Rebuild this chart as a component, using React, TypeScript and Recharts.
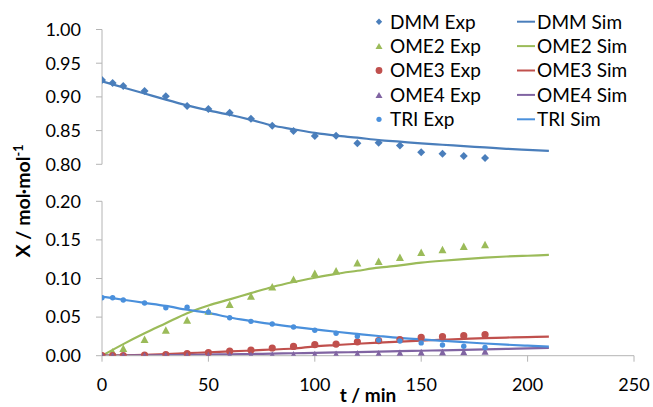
import React from 'react';
import { ComposedChart, Line, Scatter, XAxis, YAxis, Label } from 'recharts';

// ---- data ----
const TIMES_EXP = [0, 5, 10, 20, 30, 40, 50, 60, 70, 80, 90, 100, 110, 120, 130, 140, 150, 160, 170, 180];
const DMM_EXP = [0.925, 0.9206, 0.9162, 0.9087, 0.901, 0.8865, 0.882, 0.8766, 0.8676, 0.8572, 0.8494, 0.842, 0.8424, 0.8311, 0.832, 0.828, 0.818, 0.8157, 0.8123, 0.8093];
const OME2_EXP = [0.0, 0.0052, 0.0096, 0.0212, 0.0333, 0.0462, 0.0579, 0.0666, 0.0773, 0.0894, 0.099, 0.1067, 0.110, 0.1205, 0.1223, 0.1276, 0.134, 0.1375, 0.1418, 0.1442];
const OME3_EXP = [0.0, 0.0, 0.0, 0.0008, 0.0015, 0.0028, 0.004, 0.006, 0.0074, 0.010, 0.012, 0.0143, 0.015, 0.018, 0.0195, 0.021, 0.0238, 0.0246, 0.026, 0.0272];
const OME4_EXP = [0.0, 0.0, 0.0, 0.0, 0.0002, 0.0004, 0.0006, 0.0008, 0.001, 0.0013, 0.0016, 0.002, 0.0022, 0.0027, 0.003, 0.0038, 0.0045, 0.0048, 0.005, 0.0058];
const TRI_EXP = [0.0751, 0.075, 0.0722, 0.0683, 0.0622, 0.0627, 0.0564, 0.0492, 0.0445, 0.041, 0.0372, 0.0329, 0.029, 0.0251, 0.0202, 0.019, 0.0166, 0.0139, 0.0122, 0.0106];

const TIMES_SIM = [0, 10, 20, 30, 40, 50, 60, 70, 80, 90, 100, 110, 120, 130, 140, 150, 160, 170, 180, 190, 200, 210];
const DMM_SIM = [0.923, 0.914, 0.905, 0.896, 0.8875, 0.880, 0.8735, 0.866, 0.8575, 0.852, 0.8465, 0.8425, 0.8395, 0.836, 0.8335, 0.831, 0.829, 0.827, 0.825, 0.823, 0.8215, 0.820];
const OME2_SIM = [0.0, 0.015, 0.029, 0.042, 0.055, 0.065, 0.073, 0.081, 0.089, 0.0955, 0.101, 0.106, 0.110, 0.114, 0.117, 0.1205, 0.123, 0.125, 0.127, 0.1285, 0.1295, 0.1305];
const OME3_SIM = [0.0, 0.0005, 0.0012, 0.0022, 0.0033, 0.0044, 0.0055, 0.0067, 0.008, 0.0093, 0.012, 0.0138, 0.0155, 0.017, 0.0183, 0.0195, 0.0207, 0.0218, 0.0228, 0.0235, 0.0241, 0.0246];
const OME4_SIM = [0.0, 0.0002, 0.0004, 0.0007, 0.001, 0.0014, 0.0018, 0.0022, 0.0027, 0.0032, 0.0037, 0.0042, 0.0047, 0.0053, 0.0058, 0.0064, 0.007, 0.0076, 0.0082, 0.0088, 0.0094, 0.0100];
const TRI_SIM = [0.0765, 0.0725, 0.0685, 0.0645, 0.0595, 0.0555, 0.0495, 0.045, 0.0408, 0.0373, 0.0342, 0.031, 0.0282, 0.0255, 0.023, 0.0212, 0.0193, 0.0175, 0.0158, 0.0143, 0.013, 0.0117];

const X_TICKS = [0, 50, 100, 150, 200, 250];
const Y_TICKS_TOP = [0.8, 0.85, 0.9, 0.95, 1.0];
const Y_TICKS_BOTTOM = [0, 0.05, 0.1, 0.15, 0.2];

const EXP_NAMES = ['DMM Exp', 'OME2 Exp', 'OME3 Exp', 'OME4 Exp', 'TRI Exp'];
const SIM_NAMES = ['DMM Sim', 'OME2 Sim', 'OME3 Sim', 'OME4 Sim', 'TRI Sim'];

// ---- styles ----
const FONT = 'Lato, "Open Sans", sans-serif';
const AXIS_COLOR = '#b4b4b4';
const COLORS = {
  DMM: '#4A7EBB',
  OME2: '#9BBB59',
  OME3: '#C0504D',
  OME4: '#8064A2',
  TRI: '#4A90DC',
};
const SERIES_KEYS = ['DMM', 'OME2', 'OME3', 'OME4', 'TRI'];

const simRows = TIMES_SIM.map((t, i) => ({
  t,
  DMM: DMM_SIM[i],
  OME2: OME2_SIM[i],
  OME3: OME3_SIM[i],
  OME4: OME4_SIM[i],
  TRI: TRI_SIM[i],
}));
const toExp = (arr: number[]) => TIMES_EXP.map((t, i) => ({ t, v: arr[i] }));
const dmmExp = toExp(DMM_EXP);
const ome2Exp = toExp(OME2_EXP);
const ome3Exp = toExp(OME3_EXP);
const ome4Exp = toExp(OME4_EXP);
const triExp = toExp(TRI_EXP);

// ---- marker shapes ----
const diamond = (color: string, r: number) => (p: any) => (
  <polygon points={`${p.cx},${p.cy - r} ${p.cx + r},${p.cy} ${p.cx},${p.cy + r} ${p.cx - r},${p.cy}`} fill={color} />
);
const triangle = (color: string, w: number, h: number) => (p: any) => (
  <polygon points={`${p.cx - w / 2},${p.cy + h / 2} ${p.cx + w / 2},${p.cy + h / 2} ${p.cx},${p.cy - h / 2}`} fill={color} />
);
const circle = (color: string, r: number) => (p: any) => <circle cx={p.cx} cy={p.cy} r={r} fill={color} />;

const W = 653;
const H = 407;
const PLOT_RIGHT = 19;
const YAXIS_W = 102;
const tickStyle = { fill: '#000', fontSize: 18, fontFamily: FONT };

const fmt = (v: number) => v.toFixed(2);

function LegendBox() {
  const rowY = (i: number) => 21.7 + i * 24.4;
  const markers = [
    <polygon key="m0" points="379,-3.2 382.2,0 379,3.2 375.8,0" fill={COLORS.DMM} />,
    <polygon key="m1" points="375.5,3 382.5,3 379,-3" fill={COLORS.OME2} />,
    <circle key="m2" cx={379} cy={0} r={3.4} fill={COLORS.OME3} />,
    <polygon key="m3" points="375.5,3 382.5,3 379,-3" fill={COLORS.OME4} />,
    <circle key="m4" cx={379} cy={0} r={2.6} fill={COLORS.TRI} />,
  ];
  return (
    <svg width={W} height={H} style={{ position: 'absolute', left: 0, top: 0, pointerEvents: 'none' }}>
      {EXP_NAMES.map((n, i) => (
        <g key={n} transform={`translate(0, ${rowY(i)})`}>
          {markers[i]}
          <text x={390} y={0} dy="0.36em" fontSize={19} fontFamily={FONT} fill="#000">{n}</text>
        </g>
      ))}
      {SIM_NAMES.map((n, i) => (
        <g key={n} transform={`translate(0, ${rowY(i)})`}>
          <line x1={517} x2={535} y1={0} y2={0} stroke={(COLORS as any)[SERIES_KEYS[i]]} strokeWidth={2} />
          <text x={537} y={0} dy="0.36em" fontSize={19} fontFamily={FONT} fill="#000">{n}</text>
        </g>
      ))}
      <text
        transform="translate(23, 201) rotate(-90)"
        x={0}
        y={0}
        dy="0.36em"
        textAnchor="middle"
        fontSize={19.5}
        fontWeight="bold"
        fontFamily={FONT}
        fill="#000"
      >
        X / mol·mol<tspan dy="-7" fontSize={12.5}>-1</tspan>
      </text>
    </svg>
  );
}

export default function App() {
  return (
    <div style={{ position: 'absolute', left: 0, top: 0, width: W, height: H, background: '#fff', fontFamily: FONT }}>
      {/* Top panel: DMM */}
      <div style={{ position: 'absolute', left: 0, top: 0 }}>
        <ComposedChart width={W} height={H} margin={{ top: 29.5, right: PLOT_RIGHT, bottom: H - 164.3, left: 0 }}>
          <XAxis type="number" dataKey="t" domain={[0, 250]} ticks={X_TICKS} hide allowDataOverflow />
          <YAxis
            type="number"
            dataKey="v"
            domain={[0.8, 1.0]}
            ticks={Y_TICKS_TOP}
            interval={0}
            width={YAXIS_W}
            allowDataOverflow
            tickFormatter={fmt}
            axisLine={{ stroke: AXIS_COLOR, strokeWidth: 1 }}
            tickLine={{ stroke: AXIS_COLOR, strokeWidth: 1 }}
            tickSize={6}
            tickMargin={15}
            tick={tickStyle}
          />
          <Scatter data={dmmExp} dataKey="v" shape={diamond(COLORS.DMM, 4)} isAnimationActive={false} />
          <Line data={simRows} dataKey="DMM" stroke={COLORS.DMM} strokeWidth={2.2} dot={false} type="monotone" isAnimationActive={false} />
        </ComposedChart>
      </div>
      {/* Bottom panel */}
      <div style={{ position: 'absolute', left: 0, top: 0 }}>
        <ComposedChart width={W} height={H} margin={{ top: 201.3, right: PLOT_RIGHT, bottom: 0, left: 0 }}>
          <XAxis
            type="number"
            dataKey="t"
            domain={[0, 250]}
            ticks={X_TICKS}
            interval={0}
            height={H - 355.7}
            allowDataOverflow
            axisLine={{ stroke: AXIS_COLOR, strokeWidth: 1 }}
            tickLine={{ stroke: AXIS_COLOR, strokeWidth: 1 }}
            tickSize={6}
            tickMargin={17}
            tick={tickStyle}
          >
            <Label value="t / min" position="insideBottom" offset={5} style={{ fontWeight: 'bold', fontSize: 19, fill: '#000', fontFamily: FONT }} />
          </XAxis>
          <YAxis
            type="number"
            dataKey="v"
            domain={[0, 0.2]}
            ticks={Y_TICKS_BOTTOM}
            interval={0}
            width={YAXIS_W}
            allowDataOverflow
            tickFormatter={fmt}
            axisLine={{ stroke: AXIS_COLOR, strokeWidth: 1 }}
            tickLine={{ stroke: AXIS_COLOR, strokeWidth: 1 }}
            tickSize={6}
            tickMargin={15}
            tick={tickStyle}
          />
          <Scatter data={ome2Exp} dataKey="v" shape={triangle(COLORS.OME2, 8, 7.5)} isAnimationActive={false} />
          <Scatter data={ome3Exp} dataKey="v" shape={circle(COLORS.OME3, 3.6)} isAnimationActive={false} />
          <Scatter data={ome4Exp} dataKey="v" shape={triangle(COLORS.OME4, 7, 7)} isAnimationActive={false} />
          <Scatter data={triExp} dataKey="v" shape={circle(COLORS.TRI, 2.7)} isAnimationActive={false} />
          <Line data={simRows} dataKey="OME2" stroke={COLORS.OME2} strokeWidth={2.2} dot={false} type="monotone" isAnimationActive={false} />
          <Line data={simRows} dataKey="OME3" stroke={COLORS.OME3} strokeWidth={2.2} dot={false} type="monotone" isAnimationActive={false} />
          <Line data={simRows} dataKey="OME4" stroke={COLORS.OME4} strokeWidth={2.2} dot={false} type="monotone" isAnimationActive={false} />
          <Line data={simRows} dataKey="TRI" stroke={COLORS.TRI} strokeWidth={2.2} dot={false} type="monotone" isAnimationActive={false} />
        </ComposedChart>
      </div>
      <LegendBox />
    </div>
  );
}
